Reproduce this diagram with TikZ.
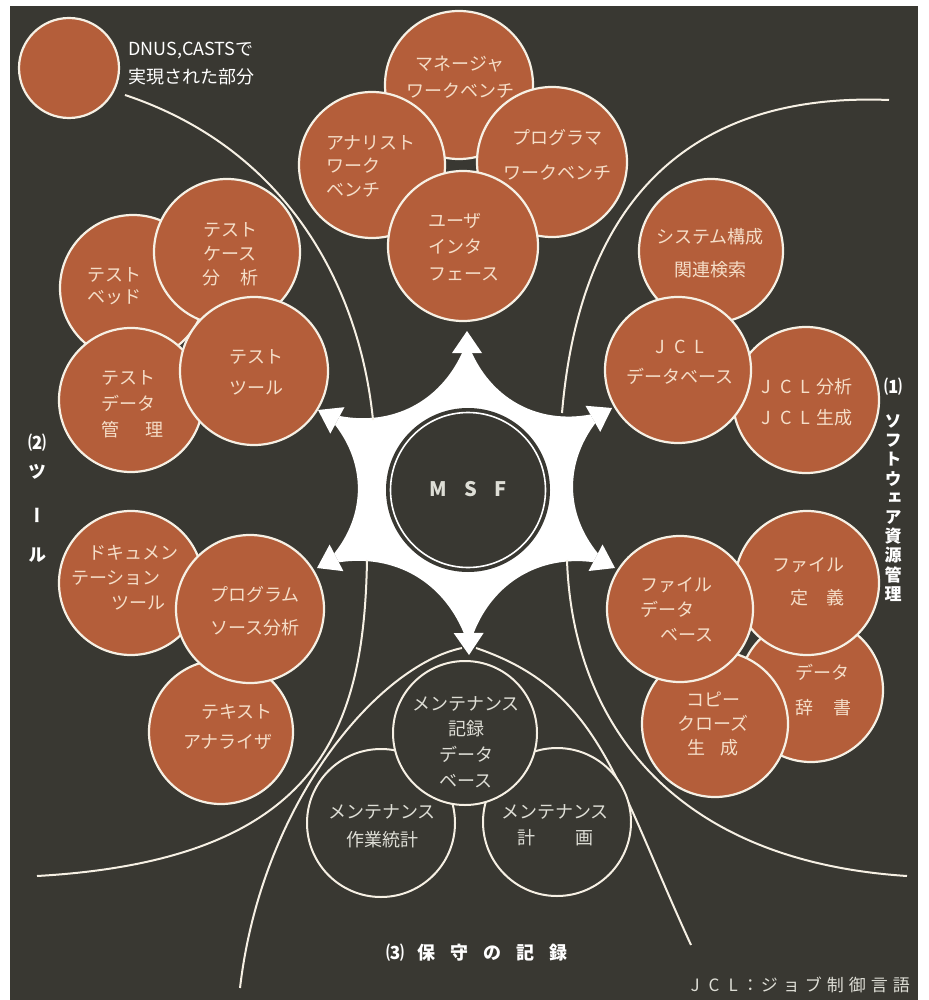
\documentclass[tikz,border=0pt]{standalone}
\usepackage{fontspec}
\usetikzlibrary{calc}
\newfontfamily\jpfont{Noto Sans CJK JP}
\newfontfamily\jpvert[RawFeature=+vert]{Noto Sans CJK JP}
\definecolor{bgc}{RGB}{57,56,50}
\definecolor{orng}{RGB}{180,94,58}
\definecolor{cream}{RGB}{246,240,228}
\definecolor{ctxt}{RGB}{245,222,200}
\definecolor{gtxt}{RGB}{222,222,214}
\newcommand{\lbf}[1]{\jpfont\fontsize{18}{#1}\selectfont}
\newcommand{\jcl}{J\hspace{9pt}C\hspace{9pt}L}
\begin{document}
\begin{tikzpicture}[x=1pt,y=-1pt,
  ocirc/.style={circle, fill=orng, draw=cream, line width=2.2pt, inner sep=0pt},
  dcirc/.style={circle, fill=bgc, draw=cream, line width=2pt, inner sep=0pt},
  otext/.style={text=ctxt, inner sep=0pt, align=center},
  dtext/.style={text=gtxt, inner sep=0pt, align=center},
  bline/.style={draw=cream, line width=2pt},
  sect/.style={text=white, inner sep=0pt, font=\jpvert\bfseries\fontsize{18}{20}\selectfont},
  concave/.style={bend right=38},
]
\useasboundingbox (0,0) rectangle (928,1000);
\fill[white] (0,0) rectangle (928,1000);
\fill[bgc] (10,6) rectangle (918,1000);

% ---- star ----
\coordinate (C) at (467,490);
\coordinate (T1) at (467,331);
\coordinate (T2) at (612,408);
\coordinate (T3) at (615,568);
\coordinate (T4) at (469,655);
\coordinate (T5) at (317,568);
\coordinate (T6) at (318,410);
\foreach \k in {1,...,6}{
  \coordinate (B\k) at ($(T\k)!22pt!(C)$);
  \coordinate (P\k) at ($(B\k)!5pt!90:(T\k)$);
  \coordinate (Q\k) at ($(B\k)!5pt!-90:(T\k)$);
  \coordinate (L\k) at ($(B\k)!15pt!90:(T\k)$);
  \coordinate (R\k) at ($(B\k)!15pt!-90:(T\k)$);
}
\fill[white] (P1) -- (Q1) to[concave] (P2)
  -- (Q2) to[concave] (P3)
  -- (Q3) to[concave] (P4)
  -- (Q4) to[concave] (P5)
  -- (Q5) to[concave] (P6)
  -- (Q6) to[concave] (P1) -- cycle;
\foreach \k in {1,...,6}{
  \fill[white] (T\k) -- (L\k) -- (R\k) -- cycle;
}
\node[circle, fill=bgc, minimum size=164pt, inner sep=0pt] (msf) at (468,490) {};
\draw[white, line width=1.6pt] (msf.center) circle (77.5pt);
\node[text=gtxt, inner sep=0pt, font=\jpfont\bfseries\fontsize{20}{22}\selectfont] (msft) at (468,489) {M\hspace{17pt}S\hspace{17pt}F};

% ---- boundary curves ----
\coordinate (c1a) at (125,95);  \coordinate (c1b) at (373,420);
\coordinate (c2a) at (889,100); \coordinate (c2b) at (562,413);
\coordinate (c3a) at (367,560); \coordinate (c3b) at (37,876);
\coordinate (c4a) at (462,648); \coordinate (c4b) at (240,988);
\coordinate (c5a) at (567,560); \coordinate (c5b) at (907,876);
\coordinate (c6a) at (476,648); \coordinate (c6b) at (691,945);
\draw[bline] (c1a) .. controls (290,150) and (360,290) .. (c1b);
\draw[bline] (c2a) .. controls (690,92) and (580,200) .. (c2b);
\draw[bline] (c3a) .. controls (364,730) and (320,860) .. (c3b);
\draw[bline] (c4a) .. controls (380,665) and (262,800) .. (c4b);
\draw[bline] (c5a) .. controls (572,710) and (660,860) .. (c5b);
\draw[bline] (c6a) .. controls (600,690) and (615,780) .. (c6b);

% ---- legend ----
\node[ocirc, minimum size=100pt] (legend) at (69,68) {};
\node[text=white, align=left, anchor=west, inner sep=0pt, font=\lbf{28}] (legendt) at (128,64) {DNUS,CASTSで\\実現された部分};

% ---- top cluster ----
\node[ocirc, minimum size=148pt] (mgr) at (459,85) {};
\node[ocirc, minimum size=146pt] (ana) at (372,165) {};
\node[ocirc, minimum size=150pt] (prg) at (552,162) {};
\node[ocirc, minimum size=150pt] (usr) at (463,246) {};
\node[otext, font=\lbf{27}] (tmgr) at (460,77) {マネージャ\\ワークベンチ};
\node[otext, align=left, font=\lbf{23.5}, anchor=west] (tana) at (326,166) {アナリスト\\ワーク\\ベンチ};
\node[otext, font=\lbf{35}] (tprg) at (557,155) {プログラマ\\ワークベンチ};
\node[otext, align=left, font=\lbf{26.5}, anchor=west] (tusr) at (428,247) {ユーザ\\インタ\\フェース};

% ---- right cluster (1) ----
\node[ocirc, minimum size=144pt] (sys) at (711,251) {};
\node[ocirc, minimum size=146pt] (jan) at (806,400) {};
\node[ocirc, minimum size=146pt] (jdb) at (678,370) {};
\node[ocirc, minimum size=144pt] (dic) at (811,690) {};
\node[ocirc, minimum size=146pt] (cpy) at (715,724) {};
\node[ocirc, minimum size=144pt] (fdef) at (807,583) {};
\node[ocirc, minimum size=146pt] (fdb) at (680,609) {};
\node[otext, font=\lbf{33}] (tsys) at (710,253) {システム構成\\関連検索};
\node[otext, font=\lbf{30}] (tjdb) at (680,362) {\jcl\\データベース};
\node[otext, font=\lbf{31}] (tjan) at (807,402) {\jcl\hspace{6pt}分析\\\jcl\hspace{6pt}生成};
\node[otext, align=left, font=\lbf{25}, anchor=west] (tfdb) at (640,610) {ファイル\\データ\\\hspace*{20pt}ベース};
\node[otext, align=right, font=\lbf{33}, anchor=east] (tfdef) at (845,582) {ファイル\\定\hspace{18pt}義};
\node[otext, align=left, font=\lbf{35}, anchor=west] (tdic) at (795,690) {データ\\辞\hspace{20pt}書};
\node[otext, font=\lbf{24}] (tcpy) at (713,724) {コピー\\クローズ\\生\hspace{16pt}成};

% ---- left cluster (2) ----
\node[ocirc, minimum size=146pt] (tbd) at (133,288) {};
\node[ocirc, minimum size=146pt] (tca) at (227,252) {};
\node[ocirc, minimum size=144pt] (tdm) at (131,400) {};
\node[ocirc, minimum size=148pt] (ttl) at (254,371) {};
\node[otext, font=\lbf{24}] (ttca) at (230,254) {テスト\\ケース\\分\hspace{20pt}析};
\node[otext, font=\lbf{22}] (ttbd) at (114,286) {テスト\\ベッド};
\node[otext, align=left, font=\lbf{26}, anchor=west] (ttdm) at (101,404) {テスト\\データ\\管\hspace{26pt}理};
\node[otext, font=\lbf{31}] (tttl) at (256,372) {テスト\\ツール};

\node[ocirc, minimum size=144pt] (doc) at (131,583) {};
\node[ocirc, minimum size=144pt] (txa) at (221,732) {};
\node[ocirc, minimum size=148pt] (psa) at (250,609) {};
\node[otext, align=left, font=\lbf{25}, anchor=west] (tdoc) at (71,578) {\hspace*{17pt}ドキュメン\\テーション\\\hspace*{40pt}ツール};
\node[otext, font=\lbf{33}] (tpsa) at (255,611) {プログラム\\ソース分析};
\node[otext, align=right, font=\lbf{30}, anchor=east] (ttxa) at (273,727) {テキスト\\アナライザ};

% ---- bottom cluster (3) ----
\node[dcirc, minimum size=148pt] (mstat) at (381,823) {};
\node[dcirc, minimum size=148pt] (mplan) at (557,822) {};
\node[dcirc, minimum size=144pt] (mrec) at (465,733) {};
\node[dtext, font=\lbf{25.7}] (tmrec) at (466,742) {メンテナンス\\記録\\データ\\ベース};
\node[dtext, font=\lbf{28}] (tmstat) at (382,826) {メンテナンス\\作業統計};
\node[dtext, font=\lbf{26}] (tmplan) at (555,825) {メンテナンス\\計\hspace{40pt}画};

% ---- section labels ----
\node[sect] (s1n) at (893,387) {⑴};
\node[sect, align=center, font=\jpvert\bfseries\fontsize{17}{19.2}\selectfont] (s1t) at (893,508) {ソ\\フ\\ト\\ウ\\ェ\\ア\\資\\源\\管\\理};
\node[sect] (s2n) at (37,443) {⑵};
\node[sect] (s2a) at (37,472) {ツ};
\node[sect] (s2b) at (37,515) {ー};
\node[sect] (s2c) at (37,555) {ル};
\node[text=white, inner sep=0pt, font=\jpfont\bfseries\fontsize{18}{20}\selectfont] (s3) at (477,953) {⑶\hspace{13pt}保\hspace{15pt}守\hspace{15pt}の\hspace{15pt}記\hspace{15pt}録};
\node[text=gtxt, inner sep=0pt, anchor=east, font=\jpfont\fontsize{17}{20}\selectfont] (note) at (910,985) {J\hspace{9pt}C\hspace{9pt}L\hspace{4pt}：\hspace{2pt}ジ\hspace{5pt}ョ\hspace{5pt}ブ\hspace{5pt}制\hspace{5pt}御\hspace{5pt}言\hspace{5pt}語};
\end{tikzpicture}
\end{document}
